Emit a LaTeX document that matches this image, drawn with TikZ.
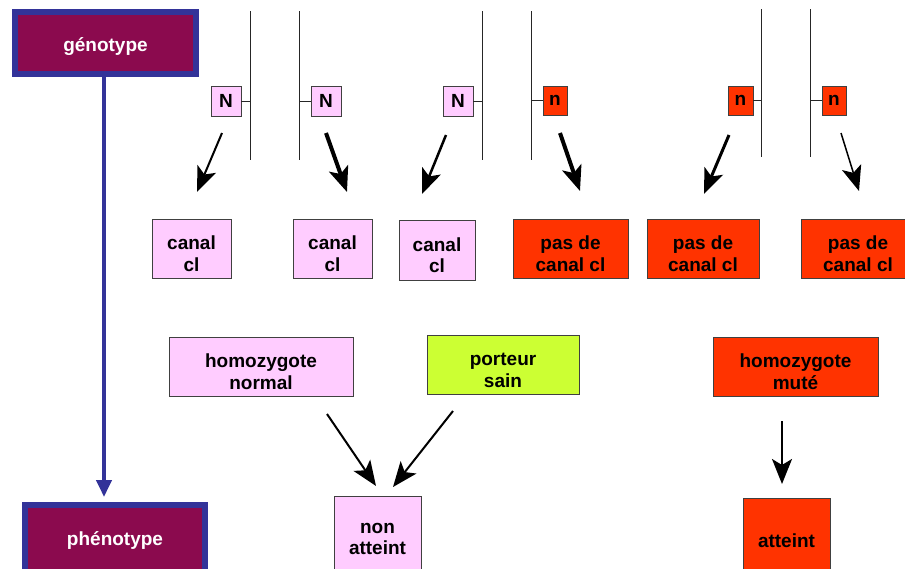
\documentclass[tikz,border=0pt]{standalone}
\usepackage{fontspec}
\setmainfont{Liberation Sans}
\usetikzlibrary{arrows.meta}
\definecolor{pinkc}{HTML}{FFCCFF}
\definecolor{redc}{HTML}{FF3300}
\definecolor{greenc}{HTML}{CCFF33}
\definecolor{maroonc}{HTML}{8B0A4E}
\definecolor{bluec}{HTML}{333399}
\newcommand{\dn}[1]{\rule{0pt}{#1}}
\begin{document}
\begin{tikzpicture}[x=1pt,y=-1pt,
 box/.style={draw=black!75, line width=0.8pt, inner sep=0pt, align=center,
   font=\fontsize{19}{21.5}\selectfont\bfseries},
 pinkbox/.style={box, fill=pinkc},
 redbox/.style={box, fill=redc},
 greenbox/.style={box, fill=greenc},
 titlebox/.style={draw=bluec, line width=6pt, fill=maroonc, text=white, inner sep=0pt,
   font=\fontsize{19}{23}\selectfont\bfseries},
 chrom/.style={draw=black!85, line width=1pt},
 arr/.style={draw=black, -{Stealth[length=25pt,width=20pt,inset=6pt]}},
]
\useasboundingbox (0,0) rectangle (905,568);
\clip (0,0) rectangle (905,568);

% title boxes
\node[titlebox, minimum width=181pt, minimum height=62pt] (geno) at (105.5,43) {\dn{22pt}génotype};
\node[titlebox, minimum width=180pt, minimum height=70pt] (pheno) at (115,540) {phénotype};
\coordinate (bt) at (104,497);
\draw[bluec, line width=4pt, -{Triangle[length=17pt,width=15pt]}] (geno.south -| bt) -- (bt);

% chromosome lines
\coordinate (l1t) at (250,11);  \coordinate (l1b) at (250,160);
\coordinate (l2t) at (299,11);  \coordinate (l2b) at (299,160);
\coordinate (l3t) at (482,11);  \coordinate (l3b) at (482,160);
\coordinate (l4t) at (531,11);  \coordinate (l4b) at (531,160);
\coordinate (l5t) at (761,9);   \coordinate (l5b) at (761,157);
\coordinate (l6t) at (810,9);   \coordinate (l6b) at (810,157);
\foreach \i in {1,...,6} {\draw[chrom] (l\i t) -- (l\i b);}

% alleles
\node[pinkbox, minimum width=30pt, minimum height=30pt] (N1) at (226,101) {N};
\node[pinkbox, minimum width=30pt, minimum height=30pt] (N2) at (326,101) {N};
\node[pinkbox, minimum width=30pt, minimum height=30pt] (N3) at (458,101) {N};
\node[redbox, minimum width=24pt, minimum height=29pt] (n4) at (555,100.5) {n};
\node[redbox, minimum width=25pt, minimum height=29pt] (n5) at (740.5,100.5) {n};
\node[redbox, minimum width=24pt, minimum height=29pt] (n6) at (834,100.5) {n};
\draw[chrom] (N1.east) -- (N1.east -| l1t);
\draw[chrom] (N2.west) -- (N2.west -| l2t);
\draw[chrom] (N3.east) -- (N3.east -| l3t);
\draw[chrom] (n4.west) -- (n4.west -| l4t);
\draw[chrom] (n5.east) -- (n5.east -| l5t);
\draw[chrom] (n6.west) -- (n6.west -| l6t);

% protein boxes
\node[pinkbox, minimum width=79pt, minimum height=59pt] (c1) at (191.5,248.5) {\dn{24pt}canal\\cl};
\node[pinkbox, minimum width=79pt, minimum height=59pt] (c2) at (332.5,248.5) {\dn{24pt}canal\\cl};
\node[pinkbox, minimum width=76pt, minimum height=60pt] (c3) at (437,250) {\dn{24pt}canal\\cl};
\node[redbox, minimum width=115pt, minimum height=59pt] (p1) at (570.5,248.5) {\dn{24pt}pas de\\canal cl};
\node[redbox, minimum width=112pt, minimum height=59pt] (p2) at (703,248.5) {\dn{24pt}pas de\\canal cl};
\node[redbox, minimum width=114pt, minimum height=59pt] (p3) at (858,248.5) {\dn{24pt}pas de\\canal cl};

% allele -> protein arrows
\coordinate (a1s) at (222,133); \coordinate (a1e) at (197,192);
\coordinate (a2s) at (326,133); \coordinate (a2e) at (347,192);
\coordinate (a3s) at (446,135); \coordinate (a3e) at (422,194);
\coordinate (a4s) at (560,133); \coordinate (a4e) at (580,191);
\coordinate (a5s) at (729,135); \coordinate (a5e) at (704,194);
\coordinate (a6s) at (841,133); \coordinate (a6e) at (859,191);
\draw[arr, line width=2pt] (a1s) -- (a1e);
\draw[arr, line width=4pt] (a2s) -- (a2e);
\draw[arr, line width=2.5pt] (a3s) -- (a3e);
\draw[arr, line width=4pt] (a4s) -- (a4e);
\draw[arr, line width=3pt] (a5s) -- (a5e);
\draw[arr, line width=1.5pt] (a6s) -- (a6e);

% genotype classes
\node[pinkbox, minimum width=184pt, minimum height=59pt] (hn) at (261,366.5) {\dn{24pt}homozygote\\normal};
\node[greenbox, minimum width=152pt, minimum height=59pt] (ps) at (503,364.5) {\dn{24pt}porteur\\sain};
\node[redbox, minimum width=165pt, minimum height=59pt] (hm) at (795.5,366.5) {\dn{24pt}homozygote\\muté};

% phenotypes
\node[pinkbox, minimum width=87pt, minimum height=86pt] (na) at (377.5,539) {non\\atteint};
\node[redbox, minimum width=87pt, minimum height=86pt] (at) at (786.5,541) {atteint};

\coordinate (b1s) at (327,414); \coordinate (b1e) at (376,486);
\coordinate (b2s) at (453,411); \coordinate (b2e) at (393,487);
\coordinate (b3s) at (782,421); \coordinate (b3e) at (782,484);
\draw[arr, line width=2pt] (b1s) -- (b1e);
\draw[arr, line width=2pt] (b2s) -- (b2e);
\draw[arr, line width=2pt] (b3s) -- (b3e);
\end{tikzpicture}
\end{document}
